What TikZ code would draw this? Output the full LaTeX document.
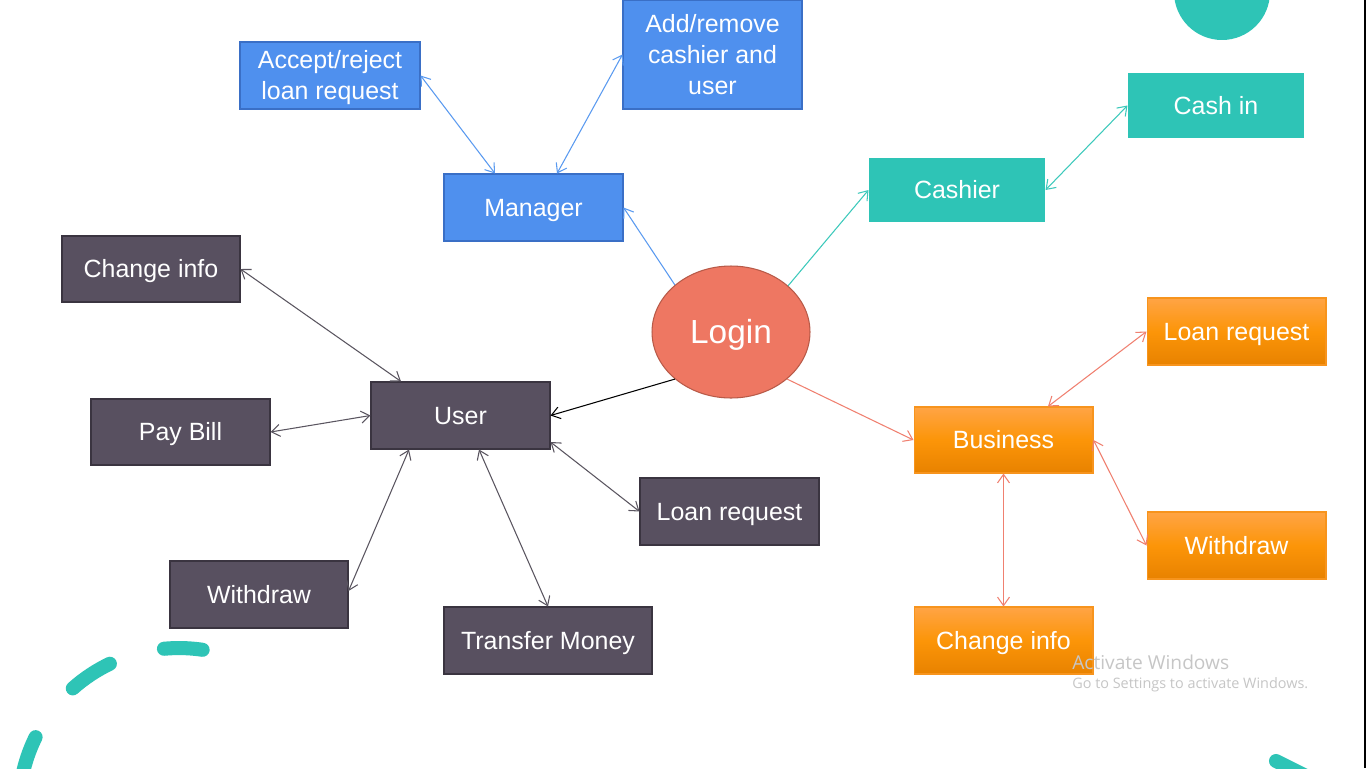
\documentclass[tikz,border=0pt]{standalone}
\usepackage{fontspec}
\setmainfont{Liberation Sans}
\newfontfamily\winfont{Open Sans}
\usetikzlibrary{arrows.meta,shapes.geometric,calc}
\definecolor{bluebox}{HTML}{4F90EE}
\definecolor{blueedge}{HTML}{3A6FC6}
\definecolor{bluearrow}{HTML}{5A9AF0}
\definecolor{tealbox}{HTML}{2EC4B6}
\definecolor{tealarrow}{HTML}{3CC9BB}
\definecolor{darkbox}{HTML}{585060}
\definecolor{darkedge}{HTML}{3A3440}
\definecolor{darkarrow}{HTML}{5A5560}
\definecolor{orangetop}{HTML}{FFA445}
\definecolor{orangemid}{HTML}{FC9508}
\definecolor{orangebot}{HTML}{E88200}
\definecolor{orangeedge}{HTML}{F7941D}
\definecolor{salmon}{HTML}{EE7762}
\definecolor{salmonedge}{HTML}{B85A48}
\definecolor{salmonarrow}{HTML}{F08070}
\definecolor{wingray}{HTML}{C6C6C6}
\tikzset{
  box/.style={rectangle, inner sep=0pt, align=center, text=white,
    font=\fontsize{14.2pt}{17.6pt}\selectfont, text height=12.85pt, text depth=3.0pt, line width=0.6pt},
  twolines/.style={text height=30.45pt},
  threelines/.style={text height=48.05pt},
  bluenode/.style={box, fill=bluebox, draw=blueedge},
  tealnode/.style={box, fill=tealbox},
  darknode/.style={box, fill=darkbox, draw=darkedge},
  orangenode/.style={box, draw=orangeedge, top color=orangetop, bottom color=orangebot, middle color=orangemid},
  tip/.style={line width=0.6pt, -{Straight Barb[length=0.17cm,width=0.24cm]}},
  dtip/.style={line width=0.6pt, {Straight Barb[length=0.17cm,width=0.24cm]}-{Straight Barb[length=0.17cm,width=0.24cm]}},
  tealstroke/.style={draw=tealbox, line width=8pt, line cap=round},
}
\begin{document}
\begin{tikzpicture}[x=0.02cm, y=-0.02cm]
\useasboundingbox (0,0) rectangle (1366,768);
\clip (0,0) rectangle (1366,768);
\fill[white] (0,0) rectangle (1366,768);

% decorations
\fill[tealbox] (1222,-8) circle[radius=0.96cm];
\draw[tealstroke] ([shift={(81.5:3.2cm)}]179,808) arc[start angle=81.5, end angle=95.4, radius=3.2cm];
\draw[tealstroke] ([shift={(115.6:3.2cm)}]179,808) arc[start angle=115.6, end angle=131.6, radius=3.2cm];
\draw[tealstroke] ([shift={(153.7:3.2cm)}]179,808) arc[start angle=153.7, end angle=178, radius=3.2cm];
\draw[tealstroke] (1276,761) -- (1322,784);
\fill[black] (1363.5,0) rectangle (1366,768);

% nodes
\node[ellipse, fill=salmon, draw=salmonedge, line width=0.6pt, minimum width=3.16cm, minimum height=2.64cm, inner sep=0pt, text=white, font=\fontsize{19pt}{22pt}\selectfont, text height=17.2pt, text depth=4.0pt] (login) at (731,332) {Login};

\node[bluenode, twolines, minimum width=3.6cm, minimum height=1.34cm] (acc) at (330,75.5) {Accept/reject\\loan request};
\node[bluenode, threelines, minimum width=3.58cm, minimum height=2.18cm] (add) at (712.5,54.5) {Add/remove\\cashier and\\user};
\node[bluenode, minimum width=3.58cm, minimum height=1.34cm] (mgr) at (533.5,207.5) {Manager};

\node[tealnode, minimum width=3.52cm, minimum height=1.28cm] (cash) at (957,190) {Cashier};
\node[tealnode, minimum width=3.52cm, minimum height=1.3cm] (cin) at (1216,105.5) {Cash in};

\node[darknode, minimum width=3.56cm, minimum height=1.32cm] (chg) at (151,269) {Change info};
\node[darknode, minimum width=3.58cm, minimum height=1.32cm] (pay) at (180.5,432) {Pay Bill};
\node[darknode, minimum width=3.58cm, minimum height=1.34cm] (user) at (460.5,415.5) {User};
\node[darknode, minimum width=3.58cm, minimum height=1.34cm] (uloan) at (729.5,511.5) {Loan request};
\node[darknode, minimum width=3.56cm, minimum height=1.34cm] (uwd) at (259,594.5) {Withdraw};
\node[darknode, minimum width=4.16cm, minimum height=1.34cm] (tm) at (548,640.5) {Transfer Money};

\node[orangenode, minimum width=3.58cm, minimum height=1.34cm] (bloan) at (1236.5,331.5) {Loan request};
\node[orangenode, minimum width=3.58cm, minimum height=1.32cm] (bus) at (1003.5,440) {Business};
\node[orangenode, minimum width=3.58cm, minimum height=1.34cm] (bwd) at (1236.5,545.5) {Withdraw};
\node[orangenode, minimum width=3.58cm, minimum height=1.34cm] (bchg) at (1003.5,640.5) {Change info};

% connectors from login
\draw[tip, bluearrow] (login.140) -- (mgr.east);
\draw[tip, tealarrow] (login.39.5) -- (cash.west);
\draw[tip, black] (login.220) -- (user.east);
\draw[tip, salmonarrow] (login.320.5) -- (bus.west);

% manager
\draw[dtip, bluearrow] ([xshift=-0.77cm]mgr.north) -- (acc.east);
\draw[dtip, bluearrow] ([xshift=0.47cm]mgr.north) -- (add.west);
% cashier
\draw[dtip, tealarrow] (cash.east) -- (cin.west);
% business
\draw[dtip, salmonarrow] ([xshift=0.89cm]bus.north) -- (bloan.west);
\draw[dtip, salmonarrow] (bus.east) -- (bwd.west);
\draw[dtip, salmonarrow] (bus.south) -- (bchg.north);
% user
\draw[dtip, darkarrow] ([xshift=-1.19cm]user.north) -- (chg.east);
\draw[dtip, darkarrow] (user.west) -- (pay.east);
\draw[dtip, darkarrow] ([xshift=-1.03cm]user.south) -- ([yshift=0.07cm]uwd.east);
\draw[dtip, darkarrow] ([xshift=0.37cm]user.south) -- (tm.north);
\draw[dtip, darkarrow] ([yshift=-0.53cm]user.east) -- (uloan.west);

% watermark
\node[anchor=west, inner sep=0pt, text=wingray, font=\winfont\fontsize{10.9pt}{13pt}\selectfont] (act) at (1072,662) {Activate Windows};
\node[anchor=west, inner sep=0pt, text=wingray, font=\winfont\fontsize{8.2pt}{10pt}\selectfont] (goto) at (1072,685) {Go to Settings to activate Windows.};
\end{tikzpicture}
\end{document}
